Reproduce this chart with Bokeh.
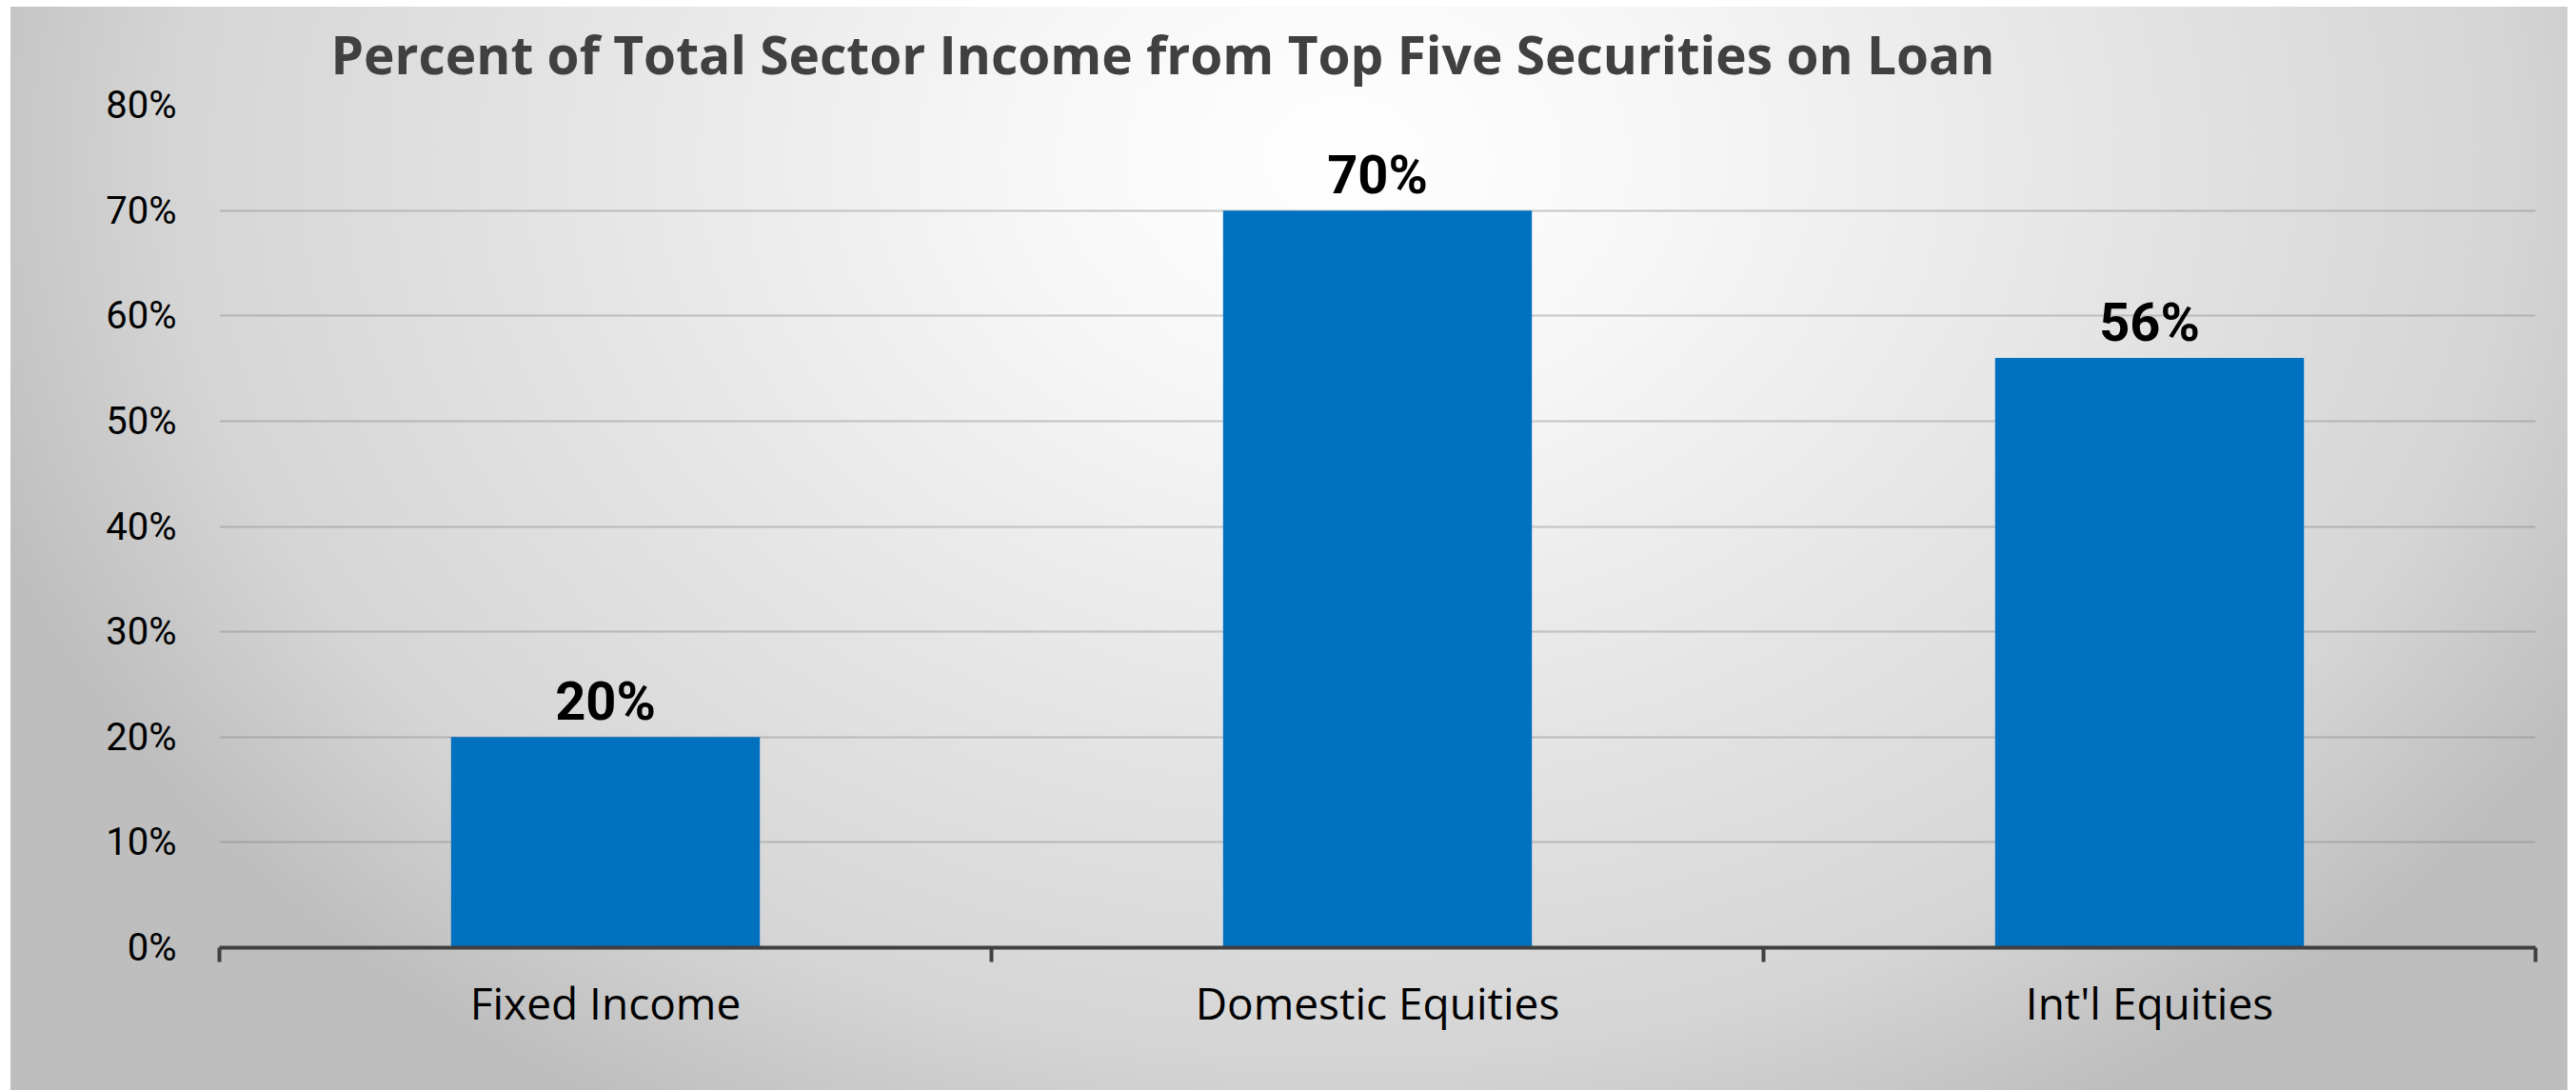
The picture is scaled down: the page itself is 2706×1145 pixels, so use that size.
from bokeh.plotting import figure
from bokeh.models import (Range1d, FixedTicker, ColumnDataSource, NumeralTickFormatter)
from bokeh.embed import file_html
from bokeh.resources import INLINE
from bokeh.core.properties import value

# ---- data ----
title_text = "Percent of Total Sector Income from Top Five Securities on Loan"
categories = ["Fixed Income", "Domestic Equities", "Int'l Equities"]
shares = [0.20, 0.70, 0.56]
y_ticks = [0.0, 0.1, 0.2, 0.3, 0.4, 0.5, 0.6, 0.7, 0.8]

W, H = 2706, 1145
BAR_COLOR = "#0070C0"

n = len(categories)
slot = list(range(n))                       # category slot index on the x scale
bounds = [i - 0.5 for i in range(n + 1)]    # slot boundaries (tick marks)

source = ColumnDataSource(dict(
    slot=slot,
    cat=categories,
    share=shares,
    label=[f"{round(v * 100)}%" for v in shares],
))

p = figure(width=W, height=H,
           x_range=Range1d(-0.5, n - 0.5),
           y_range=Range1d(0, 0.8),
           output_backend="svg", toolbar_location=None,
           min_border_left=230, min_border_right=43,
           min_border_top=108, min_border_bottom=150)

p.styles = {
    "background": "radial-gradient(ellipse 1500px 1150px at 1400px 160px, #ffffff 0%, #f7f7f7 22%, "
                  "#e4e4e4 55%, #d5d5d5 82%, #bebebe 100%) 11px 7px / 2686px 1138px no-repeat, #ffffff"
}
p.border_fill_alpha = 0
p.background_fill_alpha = 0
p.outline_line_color = None
p.xgrid.visible = False

# y axis
yax = p.yaxis[0]
yax.ticker = FixedTicker(ticks=y_ticks)
yax.formatter = NumeralTickFormatter(format="0%")
yax.axis_line_color = None
yax.major_tick_line_color = None
yax.minor_tick_line_color = None
yax.major_label_standoff = 39
yax.major_label_text_font = "Roboto"
yax.major_label_text_font_size = "40px"
yax.major_label_text_color = "#000000"

p.ygrid.grid_line_color = "#7f7f7f"
p.ygrid.grid_line_alpha = 0.4
p.ygrid.grid_line_width = 2

# x axis: tick marks at slot boundaries, labels centred in slots
xax = p.xaxis[0]
xax.ticker = FixedTicker(ticks=slot, minor_ticks=bounds)
xax.major_label_overrides = {i: name for i, name in zip(slot, categories)}
xax.axis_line_color = "#404040"
xax.axis_line_width = 4
xax.major_tick_line_color = None
xax.major_tick_out = 0
xax.major_tick_in = 0
xax.minor_tick_line_color = "#404040"
xax.minor_tick_line_width = 4
xax.minor_tick_out = 15
xax.minor_tick_in = 0
xax.major_label_standoff = 11
xax.major_label_text_font = "Open Sans"
xax.major_label_text_font_size = "46px"
xax.major_label_text_color = "#000000"

# bars
p.vbar(x="slot", top="share", width=0.4, source=source, fill_color=BAR_COLOR, line_color=None)

# value labels
p.text(x="slot", y="share", text="label", source=source,
       text_align="center", text_baseline="alphabetic", y_offset=-37,
       text_font=value("Roboto"), text_font_style="bold", text_font_size="56px",
       text_color="#000000")

# title
p.title.text = title_text
p.title.align = "left"
p.title.offset = 117
p.title.text_font = "Open Sans"
p.title.text_font_style = "bold"
p.title.text_font_size = "55px"
p.title.text_color = "#404040"
p.title.standoff = 33

open("out.html", "w").write(file_html(p, INLINE))
